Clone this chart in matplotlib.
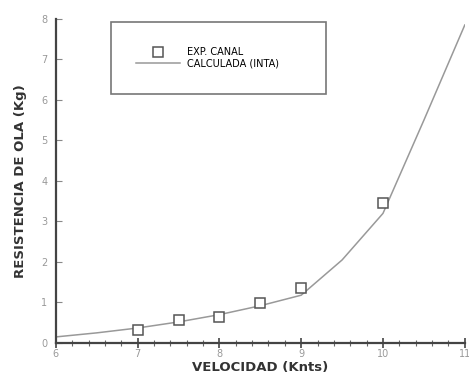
import matplotlib.pyplot as plt
from matplotlib.ticker import MultipleLocator

# data
exp_speed = [7.0, 7.5, 8.0, 8.5, 9.0, 10.0]
exp_resist = [0.32, 0.57, 0.64, 0.99, 1.36, 3.46]

calc_speed = [6.0, 6.5, 7.0, 7.5, 8.0, 8.5, 9.0, 9.5, 10.0, 10.5, 11.0]
calc_resist = [0.15, 0.25, 0.37, 0.52, 0.70, 0.92, 1.18, 2.05, 3.20, 5.50, 7.85]

x_ticks = [6, 7, 8, 9, 10, 11]
y_ticks = [0, 1, 2, 3, 4, 5, 6, 7, 8]

fig = plt.figure(figsize=(4.69, 3.79), dpi=100)
ax = fig.add_axes([0.119, 0.095, 0.872, 0.855])

ax.plot(calc_speed, calc_resist, color="#999999", lw=1.1, label="CALCULADA (INTA)")
ax.plot(exp_speed, exp_resist, ls="none", marker="s", ms=7, mfc="white",
        mec="#555555", mew=1.1, label="EXP. CANAL")

ax.set_xlim(6, 11)
ax.set_ylim(0, 8)
ax.set_xticks(x_ticks)
ax.set_yticks(y_ticks)
ax.xaxis.set_minor_locator(MultipleLocator(0.2))

for s in ["top", "right"]:
    ax.spines[s].set_visible(False)
for s in ["left", "bottom"]:
    ax.spines[s].set_linewidth(1.6)
    ax.spines[s].set_color("#444444")

ax.tick_params(axis="x", which="major", direction="inout", length=7, width=1.2,
               color="#444444", labelsize=7, labelcolor="#999999", pad=1)
ax.tick_params(axis="x", which="minor", direction="inout", length=5, width=0.8,
               color="#666666")
ax.tick_params(axis="y", which="major", direction="in", length=4, width=0.8,
               color="#888888", labelsize=7, labelcolor="#999999", pad=6)

ax.set_xlabel("VELOCIDAD (Knts)", fontsize=9.5, color="#333333", labelpad=1,
              fontweight="bold")
ax.set_ylabel("RESISTENCIA DE OLA (Kg)", fontsize=9.5, color="#333333", labelpad=10,
              fontweight="bold")

handles, labels = ax.get_legend_handles_labels()
leg = ax.legend(handles[::-1], labels[::-1], loc="upper left",
                bbox_to_anchor=(0.134, 0.775, 0.526, 0.215), mode="expand",
                borderaxespad=0, fancybox=False, edgecolor="#777777",
                framealpha=1, handlelength=4.5, labelspacing=0.1,
                borderpad=2.6, prop={"size": 7})
leg.get_frame().set_linewidth(1.2)

fig.savefig("out.png", dpi=100)
